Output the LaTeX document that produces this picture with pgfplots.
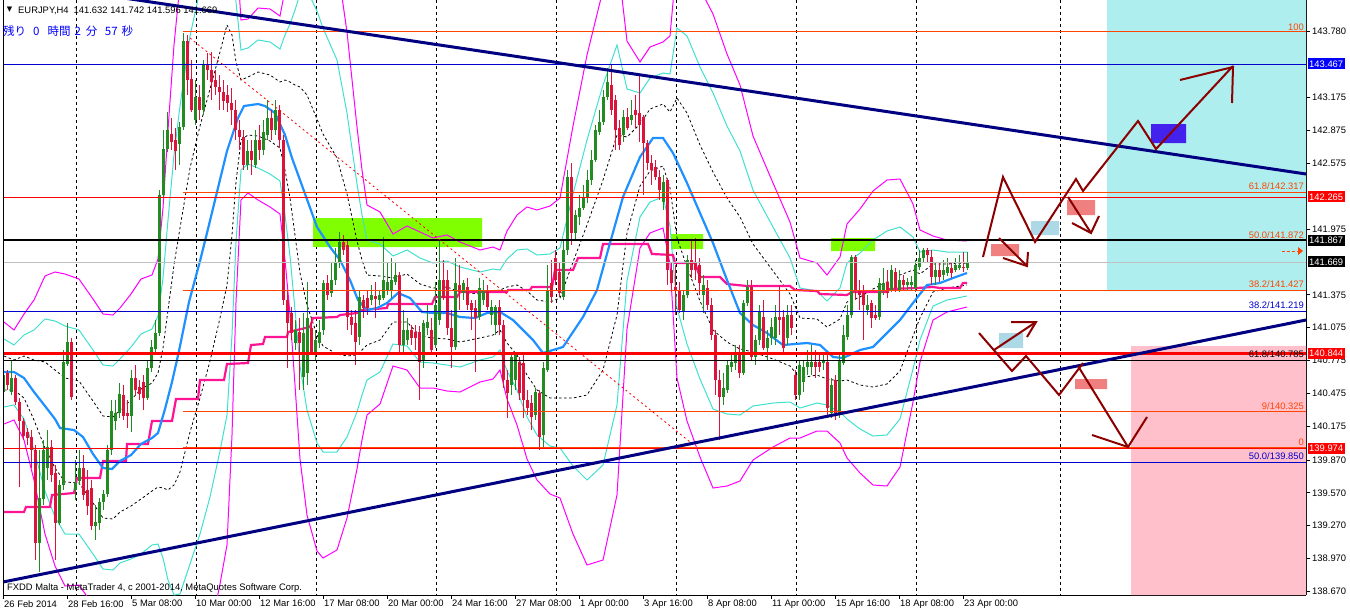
\documentclass[border=0pt]{standalone}
\usepackage{pgfplots}
\usepackage{pgfplotstable}
\pgfplotsset{compat=1.18}
\usepackage{fontspec}
\setmainfont{Liberation Sans}
\newfontfamily\jp{Noto Sans CJK JP}
\newfontfamily\dejavu{DejaVu Sans}
\definecolor{cgreen}{RGB}{34,139,34}
\definecolor{cred}{RGB}{220,20,60}
\definecolor{orred}{RGB}{255,69,0}
\definecolor{mblue}{RGB}{0,0,205}
\definecolor{navyc}{RGB}{0,0,128}
\definecolor{turq}{RGB}{64,224,208}
\definecolor{magc}{RGB}{255,0,255}
\definecolor{dodger}{RGB}{30,144,255}
\definecolor{dpink}{RGB}{255,20,147}
\definecolor{dred}{RGB}{139,0,0}
\definecolor{paleturq}{RGB}{175,238,238}
\definecolor{pinkc}{RGB}{255,192,203}
\definecolor{lcoral}{RGB}{240,128,128}
\definecolor{lblue}{RGB}{173,216,230}
\definecolor{chartr}{RGB}{127,255,0}
\definecolor{violetb}{RGB}{68,34,238}
\definecolor{greyc}{RGB}{192,192,192}
\newcommand{\lf}{\fontsize{9.4}{10}\selectfont}

% candles: x open high low close (vertical values in screen rows, 0 = top)
\pgfplotstableread{
x o h l c
3.5 392 366 406 375
11.5 392 360 395 378
39.5 543 450 572 498
43.5 499 440 505 450
47.5 468 430 480 447
59.5 523 480 525 485
63.5 485 350 490 362
67.5 364 323 366 342
75.5 490 460 500 483
79.5 481 450 485 468
95.5 526 505 540 522
99.5 523 498 530 502
103.5 502 490 510 494
107.5 494 445 497 450
111.5 450 400 455 411
115.5 421 400 430 413
119.5 413 383 418 394
131.5 416 370 432 378
147.5 398 360 400 368
151.5 368 340 372 347
155.5 349 320 352 333
159.5 333 190 336 195
163.5 195 130 197 149
167.5 149 112 152 130
179.5 144 122 165 127
183.5 127 33 130 41
195.5 120 80 125 97
203.5 110 60 115 65
247.5 165 140 170 151
255.5 165 130 168 140
263.5 150 120 155 132
267.5 135 100 140 118
275.5 130 100 135 110
295.5 343 320 350 330
303.5 377 313 390 333
307.5 373 282 385 318
315.5 353 330 360 340
319.5 343 320 348 332
323.5 330 280 335 283
331.5 293 262 297 280
335.5 280 248 285 263
339.5 263 232 268 242
359.5 337 290 345 297
371.5 300 285 305 295
379.5 300 290 305 295
383.5 298 237 300 280
387.5 290 262 295 282
391.5 290 258 298 280
395.5 282 262 285 275
403.5 345 310 352 330
407.5 340 318 345 330
423.5 360 320 368 323
427.5 328 305 335 322
435.5 345 282 348 305
439.5 320 240 325 280
455.5 347 258 350 283
463.5 293 280 300 283
479.5 317 278 320 288
483.5 300 280 305 290
491.5 315 300 325 307
495.5 325 305 335 307
511.5 385 352 395 357
515.5 380 352 390 355
535.5 415 388 420 392
543.5 435 362 447 368
547.5 370 265 372 290
563.5 297 240 300 250
567.5 250 170 255 177
575.5 233 210 240 215
579.5 217 195 225 208
583.5 208 185 210 198
587.5 198 170 203 180
591.5 180 150 185 160
595.5 160 125 162 130
599.5 132 110 135 122
603.5 122 90 125 97
607.5 97 68 100 82
623.5 135 110 142 117
631.5 120 100 125 115
663.5 202 175 210 182
683.5 312 290 320 295
687.5 295 255 298 260
703.5 295 275 313 285
723.5 397 373 405 388
727.5 390 360 393 365
731.5 367 353 372 362
735.5 363 345 370 353
743.5 373 300 375 303
747.5 303 280 306 287
755.5 357 335 365 340
759.5 340 305 345 312
767.5 348 330 360 338
771.5 338 318 345 327
775.5 338 305 345 317
787.5 338 305 345 315
799.5 395 360 400 365
803.5 382 360 392 367
807.5 367 350 375 362
811.5 367 345 375 362
823.5 363 355 370 360
831.5 413 378 418 385
839.5 413 355 418 360
843.5 363 325 365 335
847.5 337 305 340 315
851.5 315 255 318 257
867.5 310 295 315 305
879.5 317 278 320 283
883.5 290 268 295 283
891.5 290 265 292 270
899.5 290 270 292 280
907.5 285 278 290 282
911.5 285 276 290 282
915.5 288 260 292 265
919.5 267 250 270 258
923.5 258 248 262 250
935.5 277 262 285 270
943.5 275 260 280 270
947.5 273 258 276 267
955.5 270 258 272 265
959.5 268 255 270 265
967.5 268 252 270 263
}\greenC

\pgfplotstableread{
x o h l c
7.5 373 370 390 385
15.5 378 375 405 402
19.5 402 398 487 421
23.5 421 418 440 436
27.5 432 428 445 438
31.5 437 430 468 450
35.5 450 445 560 543
51.5 447 440 482 475
55.5 473 465 560 523
71.5 342 338 400 397
83.5 468 455 500 495
87.5 490 470 515 506
91.5 488 480 530 526
123.5 395 385 420 416
127.5 413 400 428 416
135.5 378 365 395 390
139.5 387 380 400 394
143.5 382 375 410 398
171.5 134 118 150 142
175.5 140 128 170 151
187.5 41 35 95 80
191.5 79 60 112 110
199.5 97 85 120 110
207.5 65 53 80 70
211.5 70 52 100 82
215.5 80 70 95 87
219.5 87 75 110 92
223.5 92 80 110 101
227.5 95 85 112 103
231.5 103 88 125 110
235.5 110 100 140 130
239.5 130 120 150 137
243.5 137 130 170 165
251.5 151 140 175 160
259.5 140 125 160 150
271.5 118 110 140 130
279.5 110 105 148 140
283.5 140 135 305 300
287.5 300 290 368 323
291.5 313 307 340 333
299.5 332 318 390 343
311.5 328 318 355 352
327.5 283 275 300 295
343.5 242 235 255 250
347.5 245 240 330 317
351.5 317 310 335 325
355.5 323 310 365 342
363.5 300 295 318 308
367.5 298 290 315 308
375.5 296 282 318 299
399.5 275 272 352 345
411.5 330 325 345 338
415.5 332 325 350 338
419.5 332 326 400 362
431.5 330 318 355 350
443.5 280 260 300 298
447.5 280 270 335 328
451.5 328 310 368 347
459.5 285 265 310 292
467.5 287 278 310 305
471.5 303 300 330 310
475.5 308 300 372 318
487.5 290 285 310 307
499.5 307 300 335 325
503.5 325 320 388 380
507.5 380 370 418 393
519.5 362 357 400 393
523.5 363 355 418 400
527.5 400 390 415 408
531.5 403 395 430 417
539.5 393 390 450 437
551.5 283 260 303 297
555.5 258 250 285 280
559.5 272 262 297 293
571.5 177 163 245 233
611.5 85 65 115 110
615.5 100 95 150 130
619.5 128 120 150 145
627.5 117 108 130 128
635.5 110 95 128 115
639.5 113 75 142 125
643.5 117 115 195 143
647.5 143 140 170 163
651.5 163 155 185 170
655.5 167 160 180 177
659.5 177 170 200 190
667.5 180 178 285 270
671.5 270 262 290 283
675.5 287 265 315 290
679.5 290 282 313 310
691.5 260 240 278 270
695.5 263 238 280 270
699.5 265 258 295 283
707.5 288 280 310 305
711.5 305 298 340 335
715.5 335 330 395 380
719.5 380 370 440 397
739.5 352 345 378 373
751.5 287 280 360 357
763.5 317 300 350 348
779.5 317 285 335 320
783.5 317 310 352 348
791.5 315 305 335 328
795.5 375 370 400 395
815.5 362 350 378 367
819.5 362 355 372 367
827.5 362 355 415 408
835.5 380 375 420 413
855.5 257 255 300 290
859.5 290 280 310 295
863.5 293 285 340 305
871.5 303 300 328 318
875.5 315 305 320 318
887.5 282 270 298 293
895.5 272 268 292 288
903.5 280 275 290 285
927.5 250 248 262 255
931.5 257 250 285 277
939.5 270 262 282 277
951.5 268 262 278 273
963.5 267 252 272 268
}\redC

% Bollinger centre c and deviation s
\pgfplotstableread{
x c s
4 373 17
14 375 15
24 377 21
34 390 30
45 405 43
55 419 49
65 430 52
79 432 51
93 452 51
103 467 51
113 468 51
120 461 51
131 453 53
141 444 55
152 437 54
158 430 57
163 418 70
168 400 90
174 375 110
180 350 122
190 300 132
200 262 136
210 225 136
220 185 133
227 155 130
232 135 100
236 122 60
241 110 30
248 106 29
258 104 32
270 108 33
280 115 33
285 125 45
290 140 58
295 160 75
300 180 93
307 200 105
317 227 108
323 240 106
337 256 98
347 275 81
357 298 57
362 305 45
367 310 35
380 308 32
393 300 22
407 298 24
420 310 26
433 313 25
447 313 26
460 317 25
480 316 22
493 313 22
500 310 20
507 315 28
517 320 35
527 333 42
537 345 45
550 350 48
560 348 50
573 330 68
587 310 85
603 275 95
617 225 90
627 185 48
640 155 31
650 140 31
663 135 31
670 150 38
677 168 70
687 190 77
700 223 78
713 251 79
727 270 72
740 283 66
753 298 54
773 315 44
790 330 36
800 348 30
817 347 28
827 353 26
840 350 31
847 341 39
860 341 44
873 338 49
887 333 51
900 323 48
913 303 33
920 296 22
933 278 14
947 276 12
967 274 11
}\bands

\pgfplotstableread{
x m
4 372
14 372
24 378
34 392
45 406
55 419
60 428
74 430
83 437
93 454
103 468
112 469
120 461
131 455
141 444
152 438
158 433
165 409
172 382
179 351
189 302
200 261
207 233
217 192
227 151
238 118
244 106
258 104
265 106
275 113
285 135
292 158
300 180
317 227
330 247
340 260
350 280
358 300
367 310
377 308
387 303
398 293
410 298
422 312
433 313
447 313
460 317
475 318
487 313
500 312
513 320
533 340
543 353
553 350
563 347
583 317
597 290
610 243
623 197
640 157
653 138
663 138
673 153
687 183
700 213
713 243
727 280
740 313
753 325
767 333
783 345
807 343
820 345
833 357
843 358
860 350
873 347
887 333
900 320
913 303
927 285
940 283
953 278
967 273
}\bluema

\pgfplotstableread{
x p
4 512
24 512
26 507
50 507
52 495
74 493
77 478
100 478
103 461
126 461
127 444
148 444
152 421
172 421
176 399
198 399
200 380
224 380
227 364
248 363
251 345
263 344
265 337
287 337
288 332
310 327
313 318
337 317
340 315
357 313
362 310
387 308
388 304
432 304
435 297
457 297
460 292
507 292
508 290
530 290
532 287
552 287
555 270
573 270
578 258
600 258
603 244
648 244
652 254
673 255
675 263
695 263
700 277
720 277
727 284
747 286
790 286
795 290
817 291
820 294
847 295
852 292
887 292
890 289
917 288
933 287
940 288
960 288
963 283
967 283
}\pinkma

\begin{document}
\begin{tikzpicture}
\useasboundingbox (0,0) rectangle (1350pt,613pt);
\begin{axis}[
  at={(3pt,18pt)}, anchor=south west,
  scale only axis, width=1303pt, height=595pt,
  xmin=3, xmax=1306, ymin=0, ymax=595, y dir=reverse,
  axis x line=bottom, axis y line=right,
  axis line style={-, black, line width=1pt},
  clip mode=individual,
  tick align=outside, major tick length=4pt,
  tick style={black, line width=0.8pt},
  xtick={3,67,131,195,259,323,387,451,515,579,643,707,771,835,899,963},
  xticklabels={26 Feb 2014,28 Feb 16:00,5 Mar 08:00,10 Mar 00:00,12 Mar 16:00,17 Mar 08:00,20 Mar 00:00,24 Mar 16:00,27 Mar 08:00,1 Apr 00:00,3 Apr 16:00,8 Apr 08:00,11 Apr 00:00,15 Apr 16:00,18 Apr 08:00,23 Apr 00:00},
  xticklabel style={anchor=north west, inner sep=0pt, yshift=-1pt, xshift=1pt, font=\lf},
  ytick={31,97.4,130.3,163.2,229,294.8,327.7,360.6,393.5,426.4,459.9,492.8,525.7,558.6,591.5},
  yticklabels={143.780,143.175,142.875,142.575,141.975,141.375,141.075,140.775,140.475,140.175,139.870,139.570,139.270,138.970,138.670},
  yticklabel style={anchor=west, inner sep=0pt, xshift=2pt, font=\lf},
  extra x ticks={76,196,316,436,556,676,796,916,1060},
  extra x tick labels={},
  extra x tick style={grid=major, major tick length=0pt},
  major grid style={black, line width=0.8pt, dash pattern=on 3pt off 3pt},
]
% ---- rectangles
\addplot[fill=paleturq, draw=none] coordinates {(1107,0) (1306,0) (1306,291) (1107,291) (1107,0)};
\addplot[fill=pinkc, draw=none] coordinates {(1131,346) (1306,346) (1306,595) (1131,595) (1131,346)};
\addplot[fill=chartr, draw=none] coordinates {(313,218) (482,218) (482,247) (313,247) (313,218)};
\addplot[fill=chartr, draw=none] coordinates {(671,234) (703,234) (703,249) (671,249) (671,234)};
\addplot[fill=chartr, draw=none] coordinates {(831,238) (875,238) (875,251) (831,251) (831,238)};
\addplot[fill=lcoral, draw=none] coordinates {(991,244) (1019,244) (1019,256) (991,256) (991,244)};
\addplot[fill=lcoral, draw=none] coordinates {(1067,200) (1095,200) (1095,215) (1067,215) (1067,200)};
\addplot[fill=lcoral, draw=none] coordinates {(1075,379) (1107,379) (1107,389) (1075,389) (1075,379)};
\addplot[fill=lblue, draw=none] coordinates {(1031,221) (1059,221) (1059,235) (1031,235) (1031,221)};
\addplot[fill=lblue, draw=none] coordinates {(999,333) (1023,333) (1023,348) (999,348) (999,333)};
\addplot[fill=violetb, draw=none] coordinates {(1151,124) (1186,124) (1186,143) (1151,143) (1151,124)};
% ---- bands
\addplot[magc, line width=1pt] table[x=x, y expr=\thisrow{c}-3*\thisrow{s}] {\bands};
\addplot[magc, line width=1pt] table[x=x, y expr=\thisrow{c}+3*\thisrow{s}] {\bands};
\addplot[turq, line width=1pt] table[x=x, y expr=\thisrow{c}-2*\thisrow{s}] {\bands};
\addplot[turq, line width=1pt] table[x=x, y expr=\thisrow{c}+2*\thisrow{s}] {\bands};
\addplot[black, line width=0.8pt, dash pattern=on 2.5pt off 2.5pt] table[x=x, y expr=\thisrow{c}-\thisrow{s}] {\bands};
\addplot[black, line width=0.8pt, dash pattern=on 2.5pt off 2.5pt] table[x=x, y expr=\thisrow{c}+\thisrow{s}] {\bands};
% ---- moving averages
\addplot[dpink, line width=2.2pt] table[x=x, y=p] {\pinkma};
\addplot[dodger, line width=2.2pt] table[x=x, y=m] {\bluema};
% ---- candles
\addplot[draw=none, mark=none, error bars/.cd, y dir=plus, y explicit, error mark=none,
  error bar style={draw=cgreen, line width=1pt, solid}]
  table[x=x, y=h, y error plus expr=\thisrow{l}-\thisrow{h}] {\greenC};
\addplot[draw=none, mark=none, error bars/.cd, y dir=plus, y explicit, error mark=none,
  error bar style={draw=cgreen, line width=3pt, solid}]
  table[x=x, y=c, y error plus expr=\thisrow{o}-\thisrow{c}] {\greenC};
\addplot[draw=none, mark=none, error bars/.cd, y dir=plus, y explicit, error mark=none,
  error bar style={draw=cred, line width=1pt, solid}]
  table[x=x, y=h, y error plus expr=\thisrow{l}-\thisrow{h}] {\redC};
\addplot[draw=none, mark=none, error bars/.cd, y dir=plus, y explicit, error mark=none,
  error bar style={draw=cred, line width=3pt, solid}]
  table[x=x, y=o, y error plus expr=\thisrow{c}-\thisrow{o}] {\redC};
% ---- horizontal lines
\addplot[mblue, line width=1pt] coordinates {(3,64) (1306,64)};
\addplot[orred, line width=1pt] coordinates {(183,31) (1306,31)};
\addplot[orred, line width=1pt] coordinates {(183,192) (1306,192)};
\addplot[red, line width=1pt] coordinates {(3,197) (1306,197)};
\addplot[black, line width=2.6pt] coordinates {(3,240) (1306,240)};
\addplot[greyc, line width=1pt] coordinates {(3,262.5) (1306,262.5)};
\addplot[orred, line width=1pt] coordinates {(183,290) (1306,290)};
\addplot[mblue, line width=1pt] coordinates {(3,311) (1306,311)};
\addplot[red, line width=2.8pt] coordinates {(3,353.5) (1306,353.5)};
\addplot[black, line width=1pt] coordinates {(3,360) (1306,360)};
\addplot[orred, line width=1pt] coordinates {(183,411) (1306,411)};
\addplot[red, line width=1pt] coordinates {(3,448.5) (1306,448.5)};
\addplot[orred, line width=1.2pt] coordinates {(183,447.5) (1306,447.5)};
\addplot[mblue, line width=1pt] coordinates {(3,462) (1306,462)};
% ---- trend lines
\addplot[navyc, line width=3pt] coordinates {(3,-20) (1306,174)};
\addplot[navyc, line width=3pt] coordinates {(3,582) (1306,320)};
\addplot[red, line width=0.8pt, dash pattern=on 2pt off 3pt] coordinates {(190,38) (690,442)};
% ---- drawn arrows
\addplot[dred, line width=2pt] coordinates {(983,257) (1003,177) (1035,242) (1076,179) (1083,191) (1138,121) (1156,149) (1233,66)};
\addplot[dred, line width=2pt] coordinates {(1180,80) (1233,67) (1232,103)};
\addplot[dred, line width=2pt] coordinates {(999,238) (1027,266)};
\addplot[dred, line width=2pt] coordinates {(1003,258) (1027,266) (1028,252)};
\addplot[dred, line width=2pt] coordinates {(1068,197) (1091,233)};
\addplot[dred, line width=2pt] coordinates {(1072,223) (1091,233) (1099,216)};
\addplot[dred, line width=2pt] coordinates {(994,350) (1036,322)};
\addplot[dred, line width=2pt] coordinates {(1011,322) (1036,322) (1027,337)};
\addplot[dred, line width=2pt] coordinates {(979,333) (1012,371) (1026,356) (1059,395) (1083,363)};
\addplot[dred, line width=2pt] coordinates {(1078,366) (1128,447)};
\addplot[dred, line width=2pt] coordinates {(1092,435) (1128,447) (1147,417)};
\addplot[orred, line width=1pt, dash pattern=on 3pt off 2pt] coordinates {(1282,251) (1298,251)};
\addplot[orred, fill=orred, draw=none] coordinates {(1298,247) (1303,251) (1298,255) (1298,247)};
\end{axis}
% left frame
\draw[black, line width=1pt] (3pt,18pt) -- (3pt,613pt);
% price boxes
\tikzset{pbox/.style={anchor=west, inner xsep=1.5pt, inner ysep=0pt, minimum height=11pt, text=white, font=\lf}}
\node[pbox, fill=blue] at (1307.5pt,549pt) {143.467};
\node[pbox, fill=red] at (1307.5pt,416pt) {142.265};
\node[pbox, fill=black] at (1307.5pt,372.5pt) {141.867};
\node[pbox, fill=black] at (1307.5pt,351pt) {141.669};
\node[pbox, fill=red] at (1307.5pt,259.5pt) {140.844};
\node[pbox, fill=red] at (1307.5pt,164.5pt) {139.974};
% fibo labels
\tikzset{flab/.style={anchor=base east, inner sep=0pt, font=\lf}}
\node[flab, text=orred] at (1304pt,582.5pt) {100};
\node[flab, text=orred] at (1304pt,423.5pt) {61.8/142.317};
\node[flab, text=orred] at (1304pt,374pt) {50.0/141.872};
\node[flab, text=orred] at (1304pt,325pt) {38.2/141.427};
\node[flab, text=mblue] at (1304pt,304.5pt) {38.2/141.219};
\node[flab, text=black] at (1304pt,255.5pt) {61.8/140.785};
\node[flab, text=orred] at (1304pt,203.5pt) {9/140.325};
\node[flab, text=orred] at (1304pt,167pt) {0};
\node[flab, text=mblue] at (1304pt,153.5pt) {50.0/139.850};
% header texts
\node[anchor=center, inner sep=0pt, font=\dejavu\fontsize{7}{8}\selectfont] at (9.5pt,603pt) {▼};
\node[anchor=base west, inner sep=0pt, font=\lf] at (18pt,599.5pt) {EURJPY,H4\hspace{5pt}141.632 141.742 141.596 141.669};
\node[anchor=west, inner sep=0pt, text=blue, font=\jp\fontsize{11.5}{13}\selectfont] at (3pt,582pt) {残り\hspace{7pt}0\hspace{8pt}時間\hspace{4pt}2\hspace{5pt}分\hspace{7.5pt}57\hspace{4pt}秒};
\node[anchor=base west, inner sep=0pt, font=\lf] at (7pt,22.5pt) {FXDD Malta - MetaTrader 4, c 2001-2014, MetaQuotes Software Corp.};
\end{tikzpicture}
\end{document}
